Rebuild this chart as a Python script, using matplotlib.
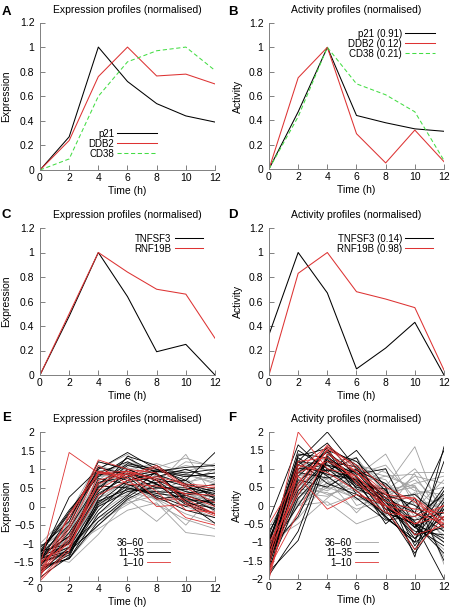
import matplotlib
matplotlib.use("Agg")
import matplotlib.pyplot as plt
from matplotlib.ticker import FuncFormatter

plt.rcParams['font.family'] = ['Liberation Sans', 'DejaVu Sans']

times = [0, 2, 4, 6, 8, 10, 12]

# panel A: expression (normalised)
a_p21 = [0, 0.27, 1.0, 0.72, 0.54, 0.44, 0.39]
a_ddb2 = [0, 0.24, 0.76, 1.0, 0.765, 0.78, 0.70]
a_cd38 = [0, 0.09, 0.60, 0.88, 0.97, 1.0, 0.81]

# panel B: activity (normalised)
b_p21 = [0, 0.47, 1.0, 0.44, 0.38, 0.33, 0.31]
b_ddb2 = [0, 0.75, 1.0, 0.29, 0.05, 0.32, 0.06]
b_cd38 = [0, 0.43, 1.0, 0.70, 0.61, 0.47, 0.07]
b_labels = ["p21 (0.91)", "DDB2 (0.12)", "CD38 (0.21)"]

# panel C / D
c_tnfsf3 = [0, 0.48, 1.0, 0.64, 0.19, 0.25, 0.0]
c_rnf19b = [0, 0.50, 1.0, 0.84, 0.70, 0.66, 0.30]
d_tnfsf3 = [0.33, 1.0, 0.67, 0.05, 0.22, 0.43, 0.0]
d_rnf19b = [0, 0.83, 1.0, 0.68, 0.62, 0.55, 0.04]
d_labels = ["TNFSF3 (0.14)", "RNF19B (0.98)"]

# panel E: top 60 expression profiles (ranks 1-10, 11-35, 36-60)
e_red = [
    [-1.6, 1.45, 0.9, 0.95, 0.75, 0.3, 0.0],
    [-1.9, -0.2, 0.9, 0.85, 1.1, 0.55, 0.5],
    [-1.7, -0.5, 1.25, 1.0, 0.9, 0.1, -0.2],
    [-1.8, -0.8, 0.6, 0.95, 0.4, -0.3, -0.5],
    [-1.5, -1.0, 0.3, 0.7, 0.8, 0.6, 0.55],
    [-2.0, -1.2, 0.9, 0.75, 0.0, 0.05, -0.25],
    [-1.75, -0.6, 0.95, 0.8, 1.05, 0.5, 0.1],
    [-1.85, -0.9, 0.45, 0.9, 0.2, 0.2, -0.2],
    [-1.6, -0.3, 1.1, 0.6, 0.55, 0.35, 0.3],
    [-1.95, -1.1, 0.7, 0.95, 0.7, -0.1, -0.15],
]
e_black = [
    [-1.4, 0.25, 1.0, 1.45, 1.0, 0.7, 1.45],
    [-1.2, -0.1, 0.8, 1.3, 0.9, 0.2, 0.1],
    [-1.5, -1.2, -0.5, 0.2, 0.6, 0.1, -0.45],
    [-1.3, -0.8, 0.5, 1.1, 0.95, 0.85, 0.8],
    [-1.6, -1.4, -0.2, 0.5, 0.3, 0.0, 0.2],
    [-1.1, -0.4, 1.2, 1.0, 0.7, 0.4, 0.25],
    [-1.7, -1.3, 0.1, 0.7, 0.9, 0.15, -0.2],
    [-1.45, -0.6, 0.65, 0.8, 0.95, 1.05, 1.1],
    [-1.35, -1.0, 0.3, 0.9, 0.6, 0.3, 0.05],
    [-1.8, -1.2, 0.0, 0.4, 0.5, 0.5, 0.35],
    [-1.25, -0.2, 0.9, 1.2, 0.85, 0.6, 0.4],
    [-1.55, -0.9, 0.75, 0.6, 0.25, -0.1, -0.3],
    [-1.4, -1.1, -0.3, 0.3, 0.95, 0.8, 0.9],
    [-1.9, -1.35, 0.2, 1.0, 0.7, 0.15, 0.15],
    [-1.3, -0.5, 1.05, 0.85, 0.5, 0.45, 0.6],
    [-1.6, -0.7, 0.4, 1.35, 1.1, 0.6, 0.0],
    [-1.2, -1.0, 0.55, 0.5, 0.35, 0.25, -0.1],
    [-1.5, -1.25, -0.1, 0.65, 0.8, 1.0, 0.75],
    [-1.45, -0.3, 0.85, 0.95, 0.6, 0.05, -0.2],
    [-1.75, -1.1, 0.15, 0.45, 0.4, 0.35, 0.5],
    [-1.35, -0.8, 0.6, 1.15, 1.0, 0.9, 1.0],
    [-1.65, -1.4, -0.4, 0.25, 0.75, 0.55, 0.3],
    [-1.25, -0.15, 0.95, 0.7, 0.9, 0.1, -0.05],
    [-1.5, -0.95, 0.35, 0.8, 0.2, 0.3, 0.45],
    [-1.4, -1.2, 0.05, 0.55, 0.65, 0.7, 0.2],
]
e_gray = [
    [-1.3, -1.5, -0.75, 0.2, -0.4, 0.3, 0.0],
    [-1.2, -0.3, 1.0, 1.4, 0.6, 1.4, 0.2],
    [-1.0, -0.2, 1.2, 1.0, 1.15, 0.9, 0.6],
    [-1.4, -1.1, -0.6, -0.1, 0.1, -0.7, -0.8],
    [-1.1, -0.6, 0.8, 0.9, 0.7, 1.2, 1.1],
    [-1.5, -1.3, 0.1, 0.4, 0.2, -0.5, 0.4],
    [-1.25, -0.9, 0.6, 1.2, 0.95, 0.8, 0.9],
    [-1.6, -0.8, 0.3, 0.65, 0.45, 0.0, -0.3],
    [-1.35, -1.2, -0.3, 0.1, 0.3, 0.6, 1.0],
    [-1.15, -0.5, 0.95, 1.1, 1.05, 1.3, 1.05],
    [-1.45, -1.0, 0.2, 0.7, 0.15, 0.2, 0.5],
    [-1.7, -1.4, -0.5, 0.15, 0.55, 0.35, 0.1],
    [-1.2, -0.7, 0.7, 1.3, 0.8, 1.0, 0.7],
    [-1.3, -1.1, 0.45, 0.55, 0.2, -0.2, -0.45],
    [-1.55, -0.4, 1.1, 0.85, 0.35, 0.75, 0.25],
    [-1.05, -0.95, -0.2, 0.35, 0.6, 0.5, 0.0],
    [-1.4, -1.3, 0.5, 1.0, 0.9, 1.1, 0.95],
    [-1.25, -0.6, 0.15, 0.3, 0.05, -0.35, -0.6],
    [-1.5, -0.85, 0.85, 0.75, 1.0, 0.65, 0.8],
    [-1.15, -1.25, 0.0, 0.6, 0.4, 0.1, 0.35],
    [-1.35, -0.45, 0.4, 1.15, 0.7, 0.95, 1.15],
    [-1.6, -1.05, -0.4, 0.05, 0.5, 0.45, -0.15],
    [-1.2, -0.75, 1.05, 0.9, 0.25, 0.85, 0.65],
    [-1.45, -1.15, 0.25, 0.45, 0.85, 0.25, -0.05],
    [-1.3, -0.55, 0.55, 1.05, 0.55, 0.4, 0.15],
]

# panel F: top 60 activity profiles
f_red = [
    [-1.5, 2.0, 1.0, 0.8, 0.0, -0.5, -0.3],
    [-2.0, 1.0, 1.6, 0.9, 0.2, 0.2, -0.4],
    [-1.8, 0.5, 1.5, 0.6, 0.0, -0.2, -0.5],
    [-0.5, 0.8, -0.1, 0.3, 0.0, -0.5, 0.0],
    [-1.2, 1.2, 1.3, 0.7, -0.1, -1.2, -0.3],
    [-1.7, -0.2, 1.4, 0.9, 0.3, 0.2, -0.6],
    [-1.9, 0.9, 1.2, 0.8, 0.1, -0.1, -0.2],
    [-1.0, 0.3, 1.55, 1.1, 0.5, 0.1, -0.5],
    [-1.6, 1.1, 0.9, 0.4, -0.2, -0.3, 0.0],
    [-1.3, 0.6, 1.65, 1.0, 0.35, -0.8, -0.55],
]
f_black = [
    [-0.4, 1.65, 0.9, 1.5, 0.5, -1.4, 1.6],
    [-1.5, 1.2, 2.0, 1.0, 0.2, -0.5, -2.0],
    [-1.8, -0.95, 1.3, 0.8, -0.3, -1.0, 1.2],
    [-1.2, 0.0, 1.2, 0.6, 0.1, -0.6, -0.1],
    [-1.0, 1.5, 1.0, 0.7, -0.5, 0.2, -1.5],
    [-1.6, 0.8, 1.5, 1.2, 0.4, -0.8, 0.4],
    [-0.8, 1.2, 0.6, 0.3, -0.2, -0.5, -0.9],
    [-1.9, -0.7, 1.4, 0.9, 0.0, -1.2, 0.0],
    [-1.3, 1.0, 1.1, 0.5, 0.3, 0.0, -0.6],
    [-1.1, 0.5, 1.6, 1.1, 0.1, -0.9, -0.3],
    [-1.4, 1.3, 0.8, 0.2, -0.4, -0.3, 0.3],
    [-0.9, 0.9, 1.45, 0.85, 1.0, -0.6, -1.1],
    [-1.7, 0.2, 1.0, 0.4, -0.3, -1.0, -0.5],
    [-1.25, 1.4, 1.3, 0.65, 0.2, -0.2, 1.5],
    [-1.55, 0.7, 0.5, 1.0, 0.0, -0.7, -0.8],
    [-1.0, 1.1, 1.7, 0.75, -0.1, -0.4, -0.2],
    [-1.35, 0.4, 1.25, 0.55, 0.45, -1.1, 0.1],
    [-1.8, 1.0, 0.95, 1.3, -0.2, -0.5, -1.3],
    [-0.7, 0.6, 1.5, 0.3, 0.0, -0.8, -0.6],
    [-1.45, 1.2, 1.1, 0.9, 0.2, 0.3, -0.4],
    [-1.2, -0.3, 1.35, 0.6, -0.35, -0.9, 0.2],
    [-1.65, 0.9, 0.75, 0.95, 0.6, -0.2, -0.7],
    [-1.05, 1.35, 1.55, 0.45, 0.15, -0.6, 0.5],
    [-1.5, 0.3, 1.2, 1.05, -0.1, -1.3, -0.1],
    [-1.3, 1.1, 0.85, 0.7, 0.3, -0.45, -1.0],
]
f_gray = [
    [-1.0, -0.5, 0.2, 0.8, 1.4, 0.0, 0.2],
    [-1.3, 0.3, 0.6, 1.0, 0.5, 1.6, -0.5],
    [-0.8, 0.0, 0.1, -0.5, -0.2, 0.9, 0.9],
    [-1.5, 0.8, 1.0, 0.6, 0.8, 0.5, -1.6],
    [-1.2, 0.0, 0.5, 0.2, 0.0, 0.3, 0.5],
    [-1.6, 1.1, 0.7, -0.2, 0.6, -0.2, -0.8],
    [-0.9, 0.4, 1.2, 1.3, 0.3, 0.7, 0.0],
    [-1.1, 0.6, 0.3, 0.5, 1.0, -0.5, -1.2],
    [-1.4, -0.2, 0.9, 0.4, 0.2, 0.8, 0.6],
    [-1.0, 0.9, 0.45, 0.75, 0.1, -0.8, -0.3],
    [-1.25, 0.2, 0.8, 1.1, 0.9, 0.4, 0.3],
    [-0.6, 0.7, 0.0, 0.3, -0.3, 0.1, -0.9],
    [-1.35, 1.0, 1.3, 0.6, 0.4, 1.0, 0.0],
    [-1.15, 0.1, 0.55, 0.9, 0.7, -0.3, -1.0],
    [-1.45, 0.5, 1.15, 0.0, 0.25, 0.6, 0.8],
    [-0.95, 0.35, 0.25, 0.65, -0.1, 0.35, -0.6],
    [-1.55, 0.95, 1.05, 1.2, 0.55, -0.6, 0.4],
    [-1.05, -0.35, 0.65, 0.15, 0.35, 0.5, -0.2],
    [-1.3, 0.65, 0.4, 0.85, 1.1, 0.2, -1.4],
    [-0.85, 0.15, 1.25, 0.5, 0.05, -0.1, 0.7],
    [-1.2, 0.75, 0.95, 1.0, 0.8, 0.85, -0.4],
    [-1.4, 0.45, 0.35, -0.1, 0.15, -0.4, 0.15],
    [-1.0, 1.2, 0.85, 0.7, 0.45, 0.55, -0.7],
    [-1.5, 0.05, 0.75, 0.35, 0.6, -0.2, 0.25],
    [-1.1, 0.55, 1.1, 0.8, -0.25, 0.15, -0.1],
]
group_labels = ["36\u201360", "11\u201335", "1\u201310"]

RED = "#dd3333"
GREEN = "#44dd44"
GRAY = "#a0a0a0"
AX = "#808080"
FS = 7.5

fig = plt.figure(figsize=(4.52, 6.08), dpi=100)
W, H = 452, 608


def make_ax(x0, x1, ytop, ybot):
    return fig.add_axes([x0 / W, 1 - ybot / H, (x1 - x0) / W, (ybot - ytop) / H])


fmt = FuncFormatter(lambda v, p: f"{v:g}".replace("-", "\u2212"))


def style(ax, title, ylabel, ylim, yticks, ylab_x):
    ax.set_xlim(0, 12)
    ax.set_ylim(*ylim)
    ax.set_xticks(times)
    ax.set_yticks(yticks)
    ax.yaxis.set_major_formatter(fmt)
    for s in ["top", "right"]:
        ax.spines[s].set_visible(False)
    for s in ["left", "bottom"]:
        ax.spines[s].set_color(AX)
        ax.spines[s].set_linewidth(0.7)
    ax.tick_params(direction="in", length=3.5, width=0.7, color=AX, labelsize=FS)
    ax.tick_params(axis="y", pad=4)
    ax.tick_params(axis="x", pad=2)
    ax.set_title(title, fontsize=FS, pad=7)
    ax.set_xlabel("Time (h)", fontsize=FS, labelpad=2)
    ax.set_ylabel(ylabel, fontsize=FS, va="center")
    # y label at a fixed pixel column, as in the original
    x0 = ax.get_position().x0 * W
    ax.yaxis.set_label_coords((ylab_x - x0) / (ax.get_position().width * W), 0.5)


def leg(ax, anchor, loc, hl):
    ax.legend(loc=loc, bbox_to_anchor=anchor, frameon=False, markerfirst=False,
              fontsize=7, handlelength=hl, handletextpad=0.3, labelspacing=0.0,
              borderpad=0, borderaxespad=0)


lw = 0.75
dash = (0, (4, 2.5))
yt01 = [0, 0.2, 0.4, 0.6, 0.8, 1, 1.2]
yt22 = [-2, -1.5, -1, -0.5, 0, 0.5, 1, 1.5, 2]

# A
ax = make_ax(40, 215, 22.5, 170)
ax.plot(times, a_p21, color="black", lw=lw, label="p21")
ax.plot(times, a_ddb2, color=RED, lw=lw, label="DDB2")
ax.plot(times, a_cd38, color=GREEN, lw=lw, ls=dash, label="CD38")
style(ax, "Expression profiles (normalised)", "Expression", (0, 1.2), yt01, 6.5)
leg(ax, (0.67, 0.28), "upper right", 4.1)

# B
ax = make_ax(269, 444, 23, 169)
ax.plot(times, b_p21, color="black", lw=lw, label=b_labels[0])
ax.plot(times, b_ddb2, color=RED, lw=lw, label=b_labels[1])
ax.plot(times, b_cd38, color=GREEN, lw=lw, ls=dash, label=b_labels[2])
style(ax, "Activity profiles (normalised)", "Activity", (0, 1.2), yt01, 238)
leg(ax, (0.95, 0.96), "upper right", 3.1)

# C
ax = make_ax(40, 215, 228, 375)
ax.plot(times, c_tnfsf3, color="black", lw=lw, label="TNFSF3")
ax.plot(times, c_rnf19b, color=RED, lw=lw, label="RNF19B")
style(ax, "Expression profiles (normalised)", "Expression", (0, 1.2), yt01, 6.5)
leg(ax, (0.93, 0.96), "upper right", 2.9)

# D
ax = make_ax(269, 444, 228, 375)
ax.plot(times, d_tnfsf3, color="black", lw=lw, label=d_labels[0])
ax.plot(times, d_rnf19b, color=RED, lw=lw, label=d_labels[1])
style(ax, "Activity profiles (normalised)", "Activity", (0, 1.2), yt01, 238)
leg(ax, (0.94, 0.96), "upper right", 2.9)

# E
ax = make_ax(40, 215, 432, 581)
for i, row in enumerate(e_gray):
    ax.plot(times, row, color=GRAY, lw=0.6, label=group_labels[0] if i == 0 else None)
for i, row in enumerate(e_black):
    ax.plot(times, row, color="black", lw=0.6, label=group_labels[1] if i == 0 else None)
for i, row in enumerate(e_red):
    ax.plot(times, row, color=RED, lw=0.6, label=group_labels[2] if i == 0 else None)
style(ax, "Expression profiles (normalised)", "Expression", (-2, 2), yt22, 6.5)
leg(ax, (0.745, 0.29), "upper right", 2.4)

# F
ax = make_ax(269, 444, 432, 579)
for i, row in enumerate(f_gray):
    ax.plot(times, row, color=GRAY, lw=0.6, label=group_labels[0] if i == 0 else None)
for i, row in enumerate(f_black):
    ax.plot(times, row, color="black", lw=0.6, label=group_labels[1] if i == 0 else None)
for i, row in enumerate(f_red):
    ax.plot(times, row, color=RED, lw=0.6, label=group_labels[2] if i == 0 else None)
style(ax, "Activity profiles (normalised)", "Activity", (-2, 2), yt22, 237)
leg(ax, (0.625, 0.28), "upper right", 2.4)

# panel letters
for letter, x, y in [("A", 2, 15), ("B", 228, 15), ("C", 2, 218), ("D", 228, 218),
                     ("E", 2, 421), ("F", 228, 421)]:
    fig.text(x / W, 1 - y / H, letter, fontsize=9.5, fontweight="bold", va="baseline")

fig.savefig("out.png", dpi=100)
